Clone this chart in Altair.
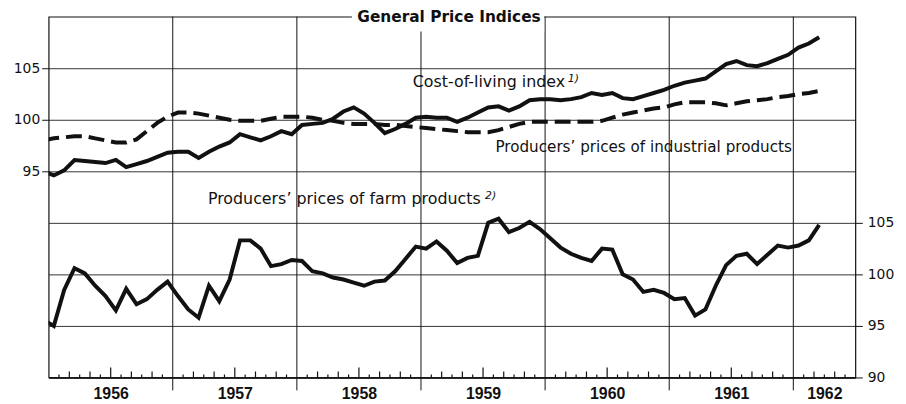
import altair as alt
import pandas as pd

# ---------------- data ----------------
# month index: 0 = January 1956; -1 = December 1955 (clipped at the left edge)
month_index = list(range(-1, 75))

cost_of_living = [
    95.0,
    94.6, 95.1, 96.1, 96.0, 95.9, 95.8, 96.1, 95.4, 95.7, 96.0, 96.4, 96.8,
    96.9, 96.9, 96.3, 96.9, 97.4, 97.8, 98.6, 98.3, 98.0, 98.4, 98.9, 98.6,
    99.5, 99.6, 99.7, 100.1, 100.8, 101.2, 100.6, 99.7, 98.7, 99.1, 99.6, 100.2,
    100.3, 100.2, 100.2, 99.8, 100.2, 100.7, 101.2, 101.3, 100.9, 101.3, 101.9, 102.0,
    102.0, 101.9, 102.0, 102.2, 102.6, 102.4, 102.6, 102.1, 102.0, 102.3, 102.6, 102.9,
    103.3, 103.6, 103.8, 104.0, 104.7, 105.4, 105.7, 105.3, 105.2, 105.5, 105.9, 106.3,
    107.0, 107.4, 108.0,
]

industrial = [
    98.0,
    98.2, 98.3, 98.4, 98.4, 98.2, 98.0, 97.8, 97.8, 98.1, 98.9, 99.7, 100.3,
    100.7, 100.7, 100.6, 100.4, 100.2, 100.0, 99.9, 99.9, 99.9, 100.1, 100.3, 100.3,
    100.3, 100.2, 100.0, 99.9, 99.7, 99.6, 99.6, 99.6, 99.5, 99.5, 99.4, 99.3,
    99.2, 99.1, 99.0, 98.9, 98.8, 98.8, 98.8, 99.0, 99.3, 99.6, 99.8, 99.8,
    99.8, 99.8, 99.8, 99.8, 99.8, 99.9, 100.2, 100.5, 100.7, 100.9, 101.1, 101.2,
    101.5, 101.7, 101.7, 101.7, 101.6, 101.4, 101.6, 101.8, 101.9, 102.0, 102.2, 102.3,
    102.5, 102.6, 102.8,
]

farm = [
    95.6,
    95.0, 98.5, 100.6, 100.1, 98.9, 97.9, 96.5, 98.6, 97.1, 97.6, 98.5, 99.3,
    97.9, 96.6, 95.8, 98.9, 97.4, 99.5, 103.3, 103.3, 102.5, 100.8, 101.0, 101.4,
    101.3, 100.3, 100.1, 99.7, 99.5, 99.2, 98.9, 99.3, 99.4, 100.3, 101.5, 102.7,
    102.5, 103.2, 102.3, 101.1, 101.6, 101.8, 105.0, 105.4, 104.1, 104.5, 105.1, 104.4,
    103.5, 102.6, 102.0, 101.6, 101.3, 102.5, 102.4, 100.0, 99.5, 98.3, 98.5, 98.2,
    97.6, 97.7, 96.0, 96.6, 98.9, 100.9, 101.8, 102.0, 101.0, 101.9, 102.8, 102.6,
    102.8, 103.3, 104.8,
]

year_labels = ["1956", "1957", "1958", "1959", "1960", "1961", "1962"]
year_label_pos = [6, 18, 30, 42, 54, 66, 75]
year_bounds = [12, 24, 36, 48, 60, 72]
top_ticks = [95, 100, 105]
bottom_ticks = [90, 95, 100, 105]

title_text = "General Price Indices"
cost_label = "Cost-of-living index"
industrial_label = "Producers\u2019 prices of industrial products"
farm_label = "Producers\u2019 prices of farm products"
note1 = "1)"
note2 = "2)"

# ---------------- layout ----------------
W, H = 814, 364
FONT = "DejaVu Sans"
INK = "#111111"

df = pd.DataFrame({
    "m": [m + 0.5 for m in month_index],
    "col": cost_of_living,
    "ind": industrial,
    "farm": farm,
})
one = pd.DataFrame({"k": [0]})

xscale = alt.Scale(domain=[0, 78], nice=False, zero=False)
ytop = alt.Scale(domain=[75, 110], nice=False, zero=False)
ybot = alt.Scale(domain=[90, 125], nice=False, zero=False)

label_expr = f"{year_labels}[indexof({year_label_pos}, datum.value)]"
xaxis = alt.Axis(values=year_label_pos, labelExpr=label_expr, ticks=False, grid=False,
                 domain=True, domainColor=INK, domainWidth=1.5,
                 labelFont="Liberation Sans", labelFontWeight="bold", labelFontSize=16,
                 labelColor=INK, labelPadding=8, title=None, labelOverlap=False)

left_axis = alt.Axis(values=top_ticks, orient="left", grid=True, gridColor=INK, gridWidth=1,
                     gridOpacity=0.85, domain=False, ticks=True, tickSize=7, tickColor=INK,
                     tickWidth=1, labelFont=FONT, labelFontSize=14, labelColor=INK,
                     labelPadding=2, title=None)
right_axis = alt.Axis(values=bottom_ticks, orient="right", grid=True, gridColor=INK, gridWidth=1,
                      gridOpacity=0.85, domain=False, ticks=True, tickSize=7, tickColor=INK,
                      tickWidth=1, labelFont=FONT, labelFontSize=14, labelColor=INK,
                      labelPadding=5, title=None)

X = alt.X("m:Q", scale=xscale, axis=xaxis)

# year boundaries (extend below the axis)
year_rules = alt.Chart(pd.DataFrame({"m": year_bounds})).mark_rule(color=INK, strokeWidth=1).encode(
    x=X, y=alt.value(0), y2=alt.value(H + 13))

# monthly inward ticks on the time axis
all_months = [m for m in range(1, 78) if m % 12 != 0]
mid_months = [m for m in all_months if m % 12 == 6]
even_months = [m for m in all_months if m % 2 == 0 and m % 12 != 6]
odd_months = [m for m in all_months if m % 2 == 1]

def tick_layer(ms, size):
    return alt.Chart(pd.DataFrame({"m": ms})).mark_rule(color=INK, strokeWidth=1.2).encode(
        x=X, y=alt.value(H), y2=alt.value(H - size))

ticks = [tick_layer(mid_months, 10), tick_layer(even_months, 6), tick_layer(odd_months, 3)]

# top panel
ind_line = alt.Chart(df).mark_line(color=INK, strokeWidth=4, strokeDash=[16, 7], clip=True).encode(
    x=X, y=alt.Y("ind:Q", scale=ytop, axis=left_axis))
col_line = alt.Chart(df).mark_line(color=INK, strokeWidth=4, clip=True).encode(
    x=X, y=alt.Y("col:Q", scale=ytop, axis=left_axis))

def label(text, xm, yv, yscale, yaxis, size=15.5, style="normal"):
    return alt.Chart(one).mark_text(text=text, font=FONT, fontSize=size, fontStyle=style,
                                    color=INK, align="left", baseline="middle").encode(
        x=alt.datum(xm, scale=xscale), y=alt.datum(yv, scale=yscale, axis=yaxis))

top_group = alt.layer(
    ind_line, col_line,
    label(cost_label, 35.2, 103.7, ytop, left_axis, size=16),
    label(note1, 50.2, 103.95, ytop, left_axis, size=11, style="italic"),
    label(industrial_label, 43.2, 97.4, ytop, left_axis, size=15.3),
)

farm_line = alt.Chart(df).mark_line(color=INK, strokeWidth=4, clip=True).encode(
    x=X, y=alt.Y("farm:Q", scale=ybot, axis=right_axis))
bottom_group = alt.layer(
    farm_line,
    label(farm_label, 15.4, 107.3, ybot, right_axis, size=16),
    label(note2, 42.2, 107.6, ybot, right_axis, size=11, style="italic"),
)

title_bg = alt.Chart(one).mark_rect(color="white").encode(
    x=alt.value(306), x2=alt.value(500), y=alt.value(-12), y2=alt.value(15))
title = alt.Chart(one).mark_text(text=title_text, font=FONT, fontSize=15.5, fontWeight="bold",
                                 color=INK, align="center", baseline="middle").encode(
    x=alt.value(404), y=alt.value(0))

chart = alt.layer(
    year_rules, *ticks, top_group, bottom_group, title_bg, title
).resolve_scale(y="independent").properties(
    width=W, height=H,
    padding={"left": 41, "top": 7, "right": 43, "bottom": 25},
    autosize=alt.AutoSizeParams(type="none"),
    background="white",
).configure_view(stroke=INK, strokeWidth=1.2)

chart.save("out.html", embed_options={"renderer": "svg", "actions": False})
